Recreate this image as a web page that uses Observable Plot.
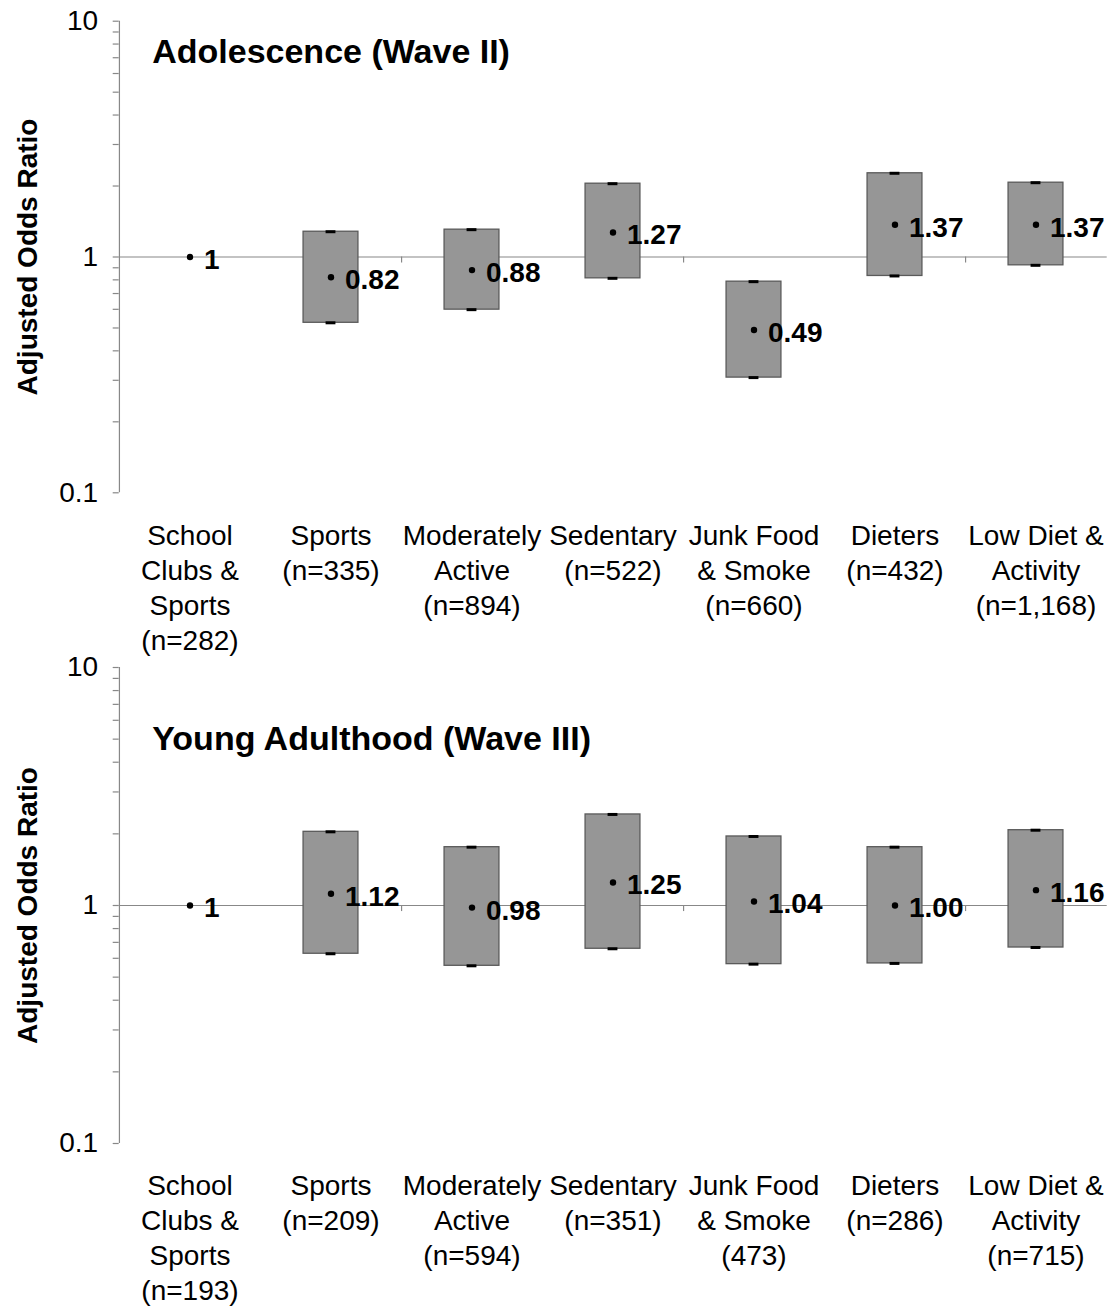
<!DOCTYPE html>
<html>
<head>
<meta charset="utf-8">
<script src="https://cdn.jsdelivr.net/npm/d3@7"></script>
<script src="https://cdn.jsdelivr.net/npm/@observablehq/plot@0.6"></script>
<style>
  html, body { margin: 0; padding: 0; background: #fff; }
  #chart { width: 1116px; }
  #chart svg { display: block; }
</style>
</head>
<body>
<div id="chart"></div>
<script>
// ---- data ----
const categories = ["School Clubs & Sports", "Sports", "Moderately Active", "Sedentary", "Junk Food & Smoke", "Dieters", "Low Diet & Activity"];

const wave2Title = "Adolescence (Wave II)";
const wave2Labels = ["School\nClubs &\nSports\n(n=282)", "Sports\n(n=335)", "Moderately\nActive\n(n=894)", "Sedentary\n(n=522)", "Junk Food\n& Smoke\n(n=660)", "Dieters\n(n=432)", "Low Diet &\nActivity\n(n=1,168)"];
const wave2Estimate = [1, 0.82, 0.88, 1.27, 0.49, 1.37, 1.37];
const wave2EstimateText = ["1", "0.82", "0.88", "1.27", "0.49", "1.37", "1.37"];
const wave2Lower = [null, 0.526, 0.598, 0.812, 0.308, 0.831, 0.922];
const wave2Upper = [null, 1.28, 1.306, 2.046, 0.786, 2.265, 2.066];

const wave3Title = "Young Adulthood (Wave III)";
const wave3Labels = ["School\nClubs &\nSports\n(n=193)", "Sports\n(n=209)", "Moderately\nActive\n(n=594)", "Sedentary\n(n=351)", "Junk Food\n& Smoke\n(473)", "Dieters\n(n=286)", "Low Diet &\nActivity\n(n=715)"];
const wave3Estimate = [1, 1.12, 0.98, 1.25, 1.04, 1.00, 1.16];
const wave3EstimateText = ["1", "1.12", "0.98", "1.25", "1.04", "1.00", "1.16"];
const wave3Lower = [null, 0.627, 0.558, 0.658, 0.567, 0.571, 0.666];
const wave3Upper = [null, 2.04, 1.758, 2.413, 1.95, 1.758, 2.072];

const yTitle = "Adjusted Odds Ratio";
const yDomain = [0.1, 10];
const majorTicks = [0.1, 1, 10];
const minorTicks = [0.2, 0.3, 0.4, 0.5, 0.6, 0.7, 0.8, 0.9, 2, 3, 4, 5, 6, 7, 8, 9];
const referenceValue = [1];
const xTickAfter = ["Sports", "Sedentary", "Dieters"];

// ---- drawing ----
const W = 1116;
const mLeft = 118.7, mRight = 9.3;
const band = (W - mLeft - mRight) / categories.length;
const FONT = "'Liberation Sans', Arial, Helvetica, sans-serif";
const AXIS = "#888";

function panel({title, labels, est, estText, lo, hi, height, marginTop, marginBottom, titleDy}) {
  const rows = categories.map((c, i) => ({cat: c, est: est[i], txt: estText[i], lo: lo[i], hi: hi[i], label: labels[i]}));
  const boxes = rows.filter(d => d.lo != null);
  return Plot.plot({
    width: W, height,
    marginLeft: mLeft, marginRight: mRight, marginTop, marginBottom,
    style: {fontFamily: FONT, background: "#fff", overflow: "visible", color: "#000"},
    x: {type: "band", domain: categories, padding: 0, axis: null},
    y: {type: "log", domain: yDomain, axis: null},
    marks: [
      // y axis line
      Plot.ruleX([categories[0]], {x: d => d, dx: -band / 2, y1: yDomain[0], y2: yDomain[1], stroke: AXIS, strokeWidth: 1.2}),
      Plot.axisY({ticks: minorTicks, tickSize: 6, text: null, stroke: AXIS, strokeWidth: 1.2}),
      Plot.axisY({ticks: majorTicks, tickSize: 6, tickPadding: 15, tickFormat: d => String(d), fontSize: 28, stroke: AXIS, strokeWidth: 1.2, fill: "#000", label: null}),
      // reference line at 1 and its small ticks
      Plot.ruleY(referenceValue, {stroke: AXIS, strokeWidth: 1.2}),
      Plot.ruleX(xTickAfter, {x: d => d, dx: band / 2, y1: 1, y2: 0.943, stroke: AXIS, strokeWidth: 1.2}),
      // CI boxes
      Plot.barY(boxes, {x: "cat", y1: "lo", y2: "hi", fill: "#969696", stroke: "#5a5a5a", strokeWidth: 1.3, insetLeft: (band - 55) / 2, insetRight: (band - 55) / 2}),
      Plot.tickY(boxes, {x: "cat", y: "hi", stroke: "#000", strokeWidth: 3, inset: (band - 10) / 2}),
      Plot.tickY(boxes, {x: "cat", y: "lo", stroke: "#000", strokeWidth: 3, inset: (band - 10) / 2}),
      // point estimates
      Plot.dot(rows, {x: "cat", y: "est", r: 3.2, fill: "#000", stroke: null}),
      Plot.text(rows, {x: "cat", y: "est", text: "txt", dx: 14, dy: 3, textAnchor: "start", fontSize: 28, fontWeight: "bold", fill: "#000"}),
      // category labels
      Plot.text(rows, {x: "cat", text: "label", frameAnchor: "bottom", lineAnchor: "top", dy: 27, lineHeight: 1.25, fontSize: 28, fill: "#000"}),
      // y title
      Plot.text([yTitle], {frameAnchor: "left", rotate: -90, dx: -91, textAnchor: "middle", lineAnchor: "middle", fontSize: 28, fontWeight: "bold", fill: "#000"}),
      // panel title
      Plot.text([title], {frameAnchor: "top-left", dx: 33, dy: titleDy, textAnchor: "start", lineAnchor: "middle", fontSize: 34, fontWeight: "bold", fill: "#000"})
    ]
  });
}

const chart = document.getElementById("chart");
chart.append(panel({title: wave2Title, labels: wave2Labels, est: wave2Estimate, estText: wave2EstimateText, lo: wave2Lower, hi: wave2Upper,
  height: 650, marginTop: 20.7, marginBottom: 650 - 492.3, titleDy: 31}));
chart.append(panel({title: wave3Title, labels: wave3Labels, est: wave3Estimate, estText: wave3EstimateText, lo: wave3Lower, hi: wave3Upper,
  height: 656, marginTop: 17, marginBottom: 656 - 493, titleDy: 72}));
</script>
</body>
</html>
